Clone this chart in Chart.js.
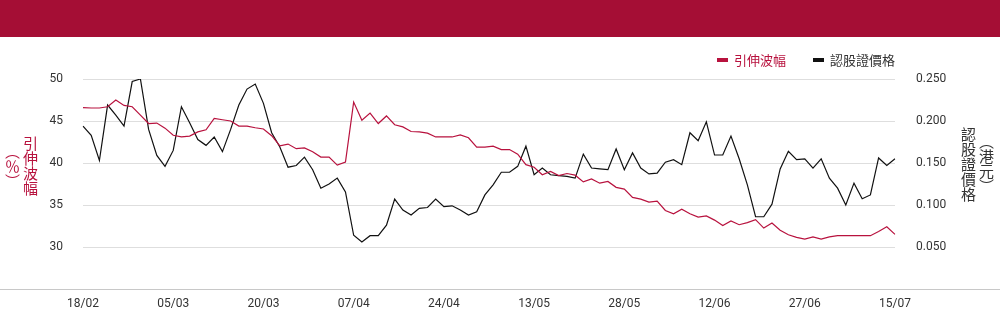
<!DOCTYPE html>
<html>
<head>
<meta charset="utf-8">
<script src="https://cdn.jsdelivr.net/npm/chart.js@4.4.1/dist/chart.umd.min.js"></script>
<style>
  body { margin: 0; background: #fff; }
  #wrap { position: relative; width: 1000px; height: 324px; overflow: hidden; }
  #banner { position: absolute; left: 0; top: 0; width: 1000px; height: 37px; background: #a50e35; }
  canvas { position: absolute; left: 0; top: 0; }
  .legend-item { position: absolute; top: 50px; height: 17px; line-height: 17px; font: 13px "Noto Sans CJK TC", sans-serif; white-space: nowrap; }
  .legend-item span { display: inline-block; width: 11px; height: 4px; vertical-align: middle; margin-right: 6px; position: relative; top: -1px; }
  .axis-title { position: absolute; font: 15px "Noto Sans CJK TC", sans-serif; line-height: 18px; width: 36px; height: 80px; text-align: center; }
  #titleLeft { left: 3px; top: 126px; writing-mode: vertical-rl; color: #b8123e; }
  #titleRight { left: 959px; top: 124px; writing-mode: vertical-lr; color: #333; }
</style>
</head>
<body>
<div id="wrap">
  <div id="banner"></div>
  <canvas id="lineChart" width="1000" height="324"></canvas>
  <div id="legend"></div>
  <div class="axis-title" id="titleLeft">引伸波幅<br>（％）</div>
  <div class="axis-title" id="titleRight">認股證價格<br>（港元）</div>
</div>
<script>
const dates = [
  "18/02","19/02","20/02","21/02","22/02","25/02","26/02","27/02","28/02","01/03","04/03","05/03",
  "06/03","07/03","08/03","11/03","12/03","13/03","14/03","15/03","18/03","19/03","20/03",
  "21/03","22/03","25/03","26/03","27/03","28/03","29/03","01/04","02/04","03/04","07/04",
  "08/04","09/04","10/04","11/04","12/04","15/04","16/04","17/04","18/04","23/04","24/04",
  "25/04","26/04","29/04","30/04","02/05","03/05","06/05","07/05","08/05","10/05","13/05",
  "14/05","15/05","16/05","17/05","20/05","21/05","22/05","23/05","24/05","27/05","28/05",
  "29/05","30/05","31/05","03/06","04/06","05/06","06/06","07/06","10/06","11/06","12/06",
  "13/06","14/06","17/06","18/06","19/06","20/06","21/06","24/06","25/06","26/06","27/06",
  "28/06","02/07","03/07","04/07","05/07","08/07","09/07","10/07","11/07","12/07","15/07"
];

const impliedVol = [
  46.6, 46.55, 46.55, 46.7, 47.5, 46.85, 46.7, 45.7, 44.7, 44.75,
  44.15, 43.3, 43.1, 43.2, 43.7, 43.95, 45.3, 45.15, 45.0, 44.4,
  44.4, 44.2, 44.05, 43.25, 42.05, 42.25, 41.7, 41.8, 41.35, 40.7,
  40.7, 39.75, 40.1, 47.25, 45.1, 45.95, 44.7, 45.6, 44.55, 44.3,
  43.75, 43.7, 43.55, 43.1, 43.1, 43.1, 43.35, 43.0, 41.9, 41.9,
  42.0, 41.6, 41.6, 41.05, 39.8, 39.5, 38.6, 39.0, 38.5, 38.75,
  38.55, 37.75, 38.1, 37.6, 37.8, 37.1, 36.9, 35.9, 35.7, 35.35,
  35.45, 34.35, 33.95, 34.5, 33.95, 33.55, 33.7, 33.2, 32.55, 33.1,
  32.65, 32.9, 33.25, 32.25, 32.85, 32.0, 31.45, 31.15, 30.95, 31.2,
  30.95, 31.2, 31.35, 31.35, 31.35, 31.35, 31.35, 31.85, 32.4, 31.5
];

const warrantPrice = [
  0.194, 0.183, 0.153, 0.219, 0.207, 0.194, 0.247, 0.250, 0.190, 0.159,
  0.146, 0.165, 0.217, 0.198, 0.178, 0.171, 0.181, 0.1635, 0.190, 0.219,
  0.238, 0.244, 0.221, 0.186, 0.169, 0.145, 0.147, 0.157, 0.142, 0.120,
  0.125, 0.132, 0.1155, 0.064, 0.056, 0.0635, 0.0635, 0.076, 0.107, 0.094,
  0.088, 0.096, 0.097, 0.107, 0.098, 0.099, 0.094, 0.088, 0.092, 0.112,
  0.124, 0.139, 0.139, 0.146, 0.170, 0.136, 0.144, 0.136, 0.135, 0.134,
  0.132, 0.1605, 0.144, 0.143, 0.142, 0.1667, 0.142, 0.162, 0.144, 0.137,
  0.138, 0.151, 0.154, 0.148, 0.186, 0.1766, 0.199, 0.1595, 0.1595, 0.182,
  0.155, 0.124, 0.086, 0.086, 0.101, 0.143, 0.164, 0.154, 0.155, 0.144,
  0.155, 0.132, 0.120, 0.100, 0.126, 0.1075, 0.112, 0.156, 0.147, 0.155
];

const seriesNames = ["引伸波幅", "認股證價格"];
const seriesColors = ["#b8123e", "#111111"];
const legendTextColors = ["#b8123e", "#333333"];

const labelEvery = 11;
const tickFont = { family: "Roboto, 'Noto Sans', sans-serif", size: 12 };

// full-width grey base line under the plot
const baseLine = {
  id: "baseLine",
  afterDraw(chart) {
    const { ctx, width } = chart;
    const y = Math.round(chart.scales.y.getPixelForValue(25)) + 0.5;
    ctx.save();
    ctx.strokeStyle = "#c8c8c8";
    ctx.lineWidth = 1;
    ctx.beginPath();
    ctx.moveTo(0, y);
    ctx.lineTo(width, y);
    ctx.stroke();
    ctx.restore();
  }
};

const chart = new Chart(document.getElementById("lineChart"), {
  type: "line",
  data: {
    labels: dates,
    datasets: [
      {
        label: seriesNames[0],
        data: impliedVol,
        yAxisID: "y",
        borderColor: seriesColors[0],
        borderWidth: 1.2,
        pointRadius: 0,
        tension: 0
      },
      {
        label: seriesNames[1],
        data: warrantPrice,
        yAxisID: "y1",
        borderColor: seriesColors[1],
        borderWidth: 1.2,
        pointRadius: 0,
        tension: 0
      }
    ]
  },
  options: {
    responsive: false,
    animation: false,
    layout: { padding: { top: 79, left: 0, right: 0, bottom: 0 } },
    plugins: {
      legend: { display: false },
      tooltip: { enabled: false }
    },
    scales: {
      x: {
        grid: { display: false, drawTicks: false },
        border: { display: false },
        ticks: {
          autoSkip: false,
          maxRotation: 0,
          padding: 8,
          color: "#333",
          font: tickFont,
          callback: (v, i) => (i % labelEvery === 0 ? dates[i] : "")
        },
        afterFit: (s) => { s.height = 35; }
      },
      y: {
        position: "left",
        min: 25,
        max: 50,
        grid: { color: "#dedede", drawTicks: false },
        border: { display: false },
        ticks: {
          stepSize: 5,
          padding: 20,
          color: "#333",
          font: tickFont,
          callback: (v) => (v === 25 ? "" : v)
        },
        afterFit: (s) => { s.width = 83; }
      },
      y1: {
        position: "right",
        min: 0,
        max: 0.25,
        grid: { display: false, drawTicks: false },
        border: { display: false },
        ticks: {
          stepSize: 0.05,
          padding: 21,
          color: "#333",
          font: tickFont,
          callback: (v) => (v === 0 ? "" : v.toFixed(3))
        },
        afterFit: (s) => { s.width = 105; }
      }
    }
  },
  plugins: [baseLine]
});

// legend at top right, built from the datasets
const legendLeft = [717, 813];
const legendBox = document.getElementById("legend");
chart.data.datasets.forEach((ds, i) => {
  const item = document.createElement("div");
  item.className = "legend-item";
  item.style.left = legendLeft[i] + "px";
  item.style.color = legendTextColors[i];
  const sw = document.createElement("span");
  sw.style.background = ds.borderColor;
  item.appendChild(sw);
  item.appendChild(document.createTextNode(ds.label));
  legendBox.appendChild(item);
});
</script>
</body>
</html>
